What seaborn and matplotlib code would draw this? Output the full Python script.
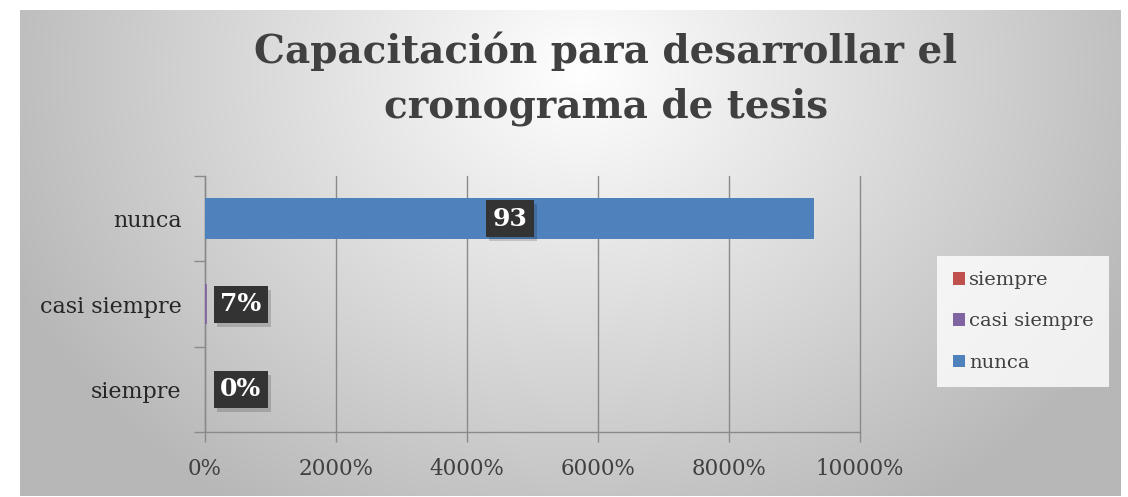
import numpy as np
import pandas as pd
import seaborn as sns
import matplotlib
matplotlib.use("Agg")
import matplotlib.pyplot as plt
from matplotlib.ticker import FuncFormatter, FixedLocator
from matplotlib.patches import Patch
from matplotlib import transforms

# ---- data ----
categories = ["siempre", "casi siempre", "nunca"]
values = [0, 0.07, 93]
value_labels = ["0%", "7%", "93"]
series_colors = ["#C0504D", "#8064A2", "#4F81BD"]
xtick_values = [0, 20, 40, 60, 80, 100]
title_lines = ["Capacitación para desarrollar el", "cronograma de tesis"]

sns.set_theme(style="white")
plt.rcParams['font.family'] = ['DejaVu Serif', 'DejaVu Sans']

W, H = 1128, 497
fig = plt.figure(figsize=(W / 100, H / 100), dpi=100)
fig.patch.set_facecolor("white")

# ---- gradient frame background ----
fx0, fx1, fy0, fy1 = 20, 1121, 10, 496
bg = fig.add_axes([fx0 / W, 1 - fy1 / H, (fx1 - fx0) / W, (fy1 - fy0) / H], zorder=0)
gw, gh = fx1 - fx0, fy1 - fy0
xx, yy = np.meshgrid(np.arange(gw), np.arange(gh))
cx, cy = 580 - fx0, 70 - fy0
r = np.sqrt(((xx - cx) / 620.0) ** 2 + ((yy - cy) / 520.0) ** 2)
t = np.clip(r, 0, 1)
c0 = np.array([1.0, 1.0, 1.0])
c1 = np.array([0.72, 0.72, 0.72])
img = c0[None, None, :] * (1 - t[..., None]) + c1[None, None, :] * t[..., None]
bg.imshow(img, aspect="auto", interpolation="bilinear")
bg.set_axis_off()

# ---- main axes ----
ax_l, ax_r, ax_t, ax_b = 205, 860, 176, 432
ax = fig.add_axes([ax_l / W, 1 - ax_b / H, (ax_r - ax_l) / W, (ax_b - ax_t) / H], zorder=2)
ax.patch.set_alpha(0)

order_top_down = categories[::-1]
df = pd.DataFrame({"categoria": categories, "valor": values, "serie": categories})
sns.barplot(data=df, y="categoria", x="valor", hue="serie", order=order_top_down,
            hue_order=categories, palette=series_colors, dodge=False, width=0.48,
            ax=ax, legend=False, saturation=1, zorder=3, linewidth=0)

# make tiny bar visible as a thin line (like Excel rendering)
for p in ax.patches:
    p.set_linewidth(0)
    fc = p.get_facecolor()
    if abs(fc[0] - 0x80 / 255) < 0.02 and abs(fc[2] - 0xA2 / 255) < 0.02:
        p.set_edgecolor(series_colors[1])
        p.set_linewidth(2.6)
        p.set_zorder(4)

ax.set_xlim(0, 100)
ax.set_ylim(2.5, -0.5)
ax.xaxis.set_major_locator(FixedLocator(xtick_values))
ax.xaxis.set_major_formatter(FuncFormatter(lambda v, pos: f"{int(round(v * 100))}%"))
ax.grid(axis="x", color="#8a8a8a", linewidth=1.0, zorder=1)
ax.grid(axis="y", visible=False)
ax.set_axisbelow(True)
for gl in ax.get_xgridlines():
    gl.set_clip_on(False)
ax.set_xlabel("")
ax.set_ylabel("")

for s in ["top", "right"]:
    ax.spines[s].set_visible(False)
for s in ["left", "bottom"]:
    ax.spines[s].set_visible(True)
    ax.spines[s].set_color("#8a8a8a")
    ax.spines[s].set_linewidth(1.0)

ax.tick_params(axis="x", which="major", direction="out", length=7, width=1,
               color="#8a8a8a", labelsize=15.5, labelcolor="#404040", pad=12, bottom=True)
ax.tick_params(axis="y", which="major", length=0, labelsize=16, labelcolor="#262626", pad=17, left=True)
ax.yaxis.set_minor_locator(FixedLocator([-0.5, 0.5, 1.5, 2.5]))
ax.tick_params(axis="y", which="minor", direction="out", length=8, width=1, color="#8a8a8a", left=True)

# ---- data labels ----
for cat, val, lab in zip(categories, values, value_labels):
    ypos = order_top_down.index(cat)
    if val > 50:
        xpos, ha, dx = val / 2, "center", 0
    else:
        xpos, ha, dx = val, "left", 15
    base = transforms.offset_copy(ax.transData, fig=fig, x=dx, y=0, units="dots")
    shadow = transforms.offset_copy(ax.transData, fig=fig, x=dx + 3, y=-4, units="dots")
    ax.text(xpos, ypos, lab, transform=shadow, ha=ha, va="center", fontsize=18,
            fontweight="bold", color=(0, 0, 0, 0), zorder=5,
            bbox=dict(boxstyle="square,pad=0.26", fc="#000000", ec="none", alpha=0.16))
    ax.text(xpos, ypos, lab, transform=base, ha=ha, va="center", fontsize=18,
            fontweight="bold", color="white", zorder=6,
            bbox=dict(boxstyle="square,pad=0.26", fc="#333333", ec="none"))

# ---- legend ----
handles = [Patch(facecolor=c, edgecolor="none") for c in series_colors]
leg = fig.legend(handles, categories, loc="center left",
                 bbox_to_anchor=(943 / W, 1 - 321.5 / H), frameon=True,
                 fontsize=14.0, handlelength=0.65, handleheight=0.65, handletextpad=0.2,
                 labelspacing=1.2, borderpad=0.5, borderaxespad=0, labelcolor="#404040")
leg.get_frame().set_facecolor((1, 1, 1, 0.25))
leg.get_frame().set_edgecolor("none")
leg.get_frame().set_boxstyle("square")
leg.set_zorder(4)

# ---- title ----
for line, base_y in zip(title_lines, [63, 118]):
    fig.text(606 / W, 1 - base_y / H, line, ha="center", va="baseline", fontsize=28,
             fontweight="bold", color="#404040", zorder=4)

fig.savefig("out.png", dpi=100, facecolor=fig.get_facecolor())
